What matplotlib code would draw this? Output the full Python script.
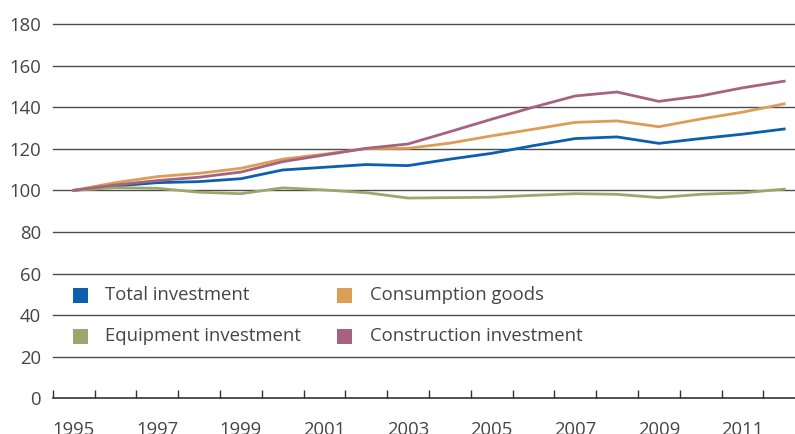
import matplotlib
matplotlib.use("Agg")
import matplotlib.pyplot as plt
from matplotlib.patches import Rectangle
import numpy as np

years = list(range(1995, 2013))
total_investment = [100.0, 102.1, 103.7, 104.2, 105.6, 109.8, 111.1, 112.4, 111.9,
                    115.0, 117.8, 121.5, 124.9, 125.7, 122.6, 124.9, 127.0, 129.5]
consumption_goods = [100.0, 103.7, 106.6, 108.2, 110.6, 115.0, 117.4, 120.1, 120.2,
                     122.7, 126.2, 129.4, 132.7, 133.4, 130.6, 134.3, 137.6, 141.6]
equipment_investment = [100.0, 101.3, 101.0, 99.1, 98.4, 101.2, 100.2, 98.9, 96.3,
                        96.5, 96.7, 97.6, 98.4, 98.1, 96.5, 98.1, 98.8, 100.6]
construction_investment = [100.0, 102.6, 104.7, 106.3, 108.8, 113.8, 117.0, 120.2, 122.3,
                           128.2, 134.2, 140.0, 145.4, 147.3, 142.8, 145.4, 149.3, 152.5]
series_names = ["Total investment", "Consumption goods",
                "Equipment investment", "Construction investment"]
series_values = [total_investment, consumption_goods, equipment_investment, construction_investment]
colors = ["#0b5fad", "#dc9d57", "#9aa86e", "#a6637f"]
y_ticks = [0, 20, 40, 60, 80, 100, 120, 140, 160, 180]
x_label_years = [1995, 1997, 1999, 2001, 2003, 2005, 2007, 2009, 2011]

plt.rcParams['font.family'] = ['Open Sans', 'DejaVu Sans']
text_color = "#454545"
fs = 13.3

W, H = 795, 434
fig = plt.figure(figsize=(W / 100, H / 100), dpi=100)
left_px, axis_y_px, top_px, cat_w = 52.7, 398.3, 24.0, 41.8
ax = fig.add_axes([left_px / W, (H - axis_y_px) / H,
                   len(years) * cat_w / W, (axis_y_px - top_px) / H])

x = np.arange(len(years))
for vals, c in zip(series_values, colors):
    ax.plot(x, vals, color=c, lw=2.0, solid_joinstyle='miter', zorder=3)

ax.set_xlim(-0.5, len(years) - 0.5)
ax.set_ylim(0, 180)

for s in ['top', 'right', 'left']:
    ax.spines[s].set_visible(False)
ax.spines['bottom'].set_color('#333333')
ax.spines['bottom'].set_linewidth(1.2)

for yv in y_ticks[1:]:
    ax.axhline(yv, color='#4d4d4d', lw=1.0, zorder=1, clip_on=False)

ax.set_yticks(y_ticks)
ax.set_yticklabels([str(v) for v in y_ticks])
ax.tick_params(axis='y', length=0, pad=8.5, labelsize=fs, labelcolor=text_color)

ax.set_xticks([years.index(y) for y in x_label_years])
ax.set_xticklabels([str(y) for y in x_label_years])
ax.set_xticks(np.arange(-0.5, len(years), 1.0), minor=True)
ax.tick_params(axis='x', which='major', length=0, pad=16.5, labelsize=fs, labelcolor=text_color)
ax.tick_params(axis='x', which='minor', direction='in', length=5.8, width=1.0, color='#333333')

# legend (2 columns x 2 rows)
sq = 15
col_x = [72.7, 337.0]
row_y = [295.0, 336.0]
text_off = 32.5
for i, (name, c) in enumerate(zip(series_names, colors)):
    col, row = i % 2, i // 2
    xs, yc = col_x[col], row_y[row]
    fig.add_artist(Rectangle((xs / W, (H - yc - sq / 2) / H), sq / W, sq / H,
                             transform=fig.transFigure, facecolor=c, edgecolor='none'))
    fig.text((xs + text_off) / W, (H - yc) / H, name, fontsize=fs, color=text_color,
             va='center', ha='left')

fig.savefig("out.png", dpi=100)
